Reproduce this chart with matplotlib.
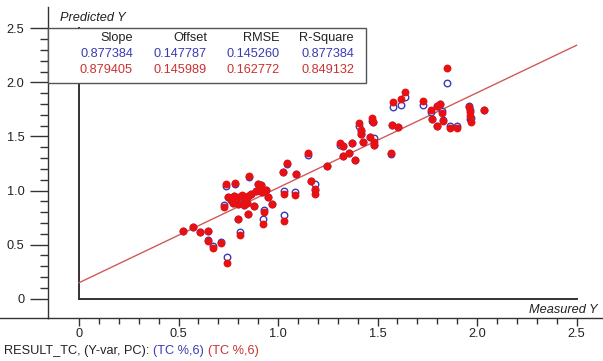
import matplotlib
matplotlib.use("Agg")
import matplotlib.pyplot as plt
from matplotlib.lines import Line2D
from matplotlib.patches import Rectangle
import numpy as np

# ---------------- data ----------------
measured = [0.523, 0.573, 0.608, 0.648, 0.648, 0.673, 0.714, 0.744, 0.729, 0.739,
            0.784, 0.799, 0.799, 0.809, 0.854, 0.849, 0.879, 0.925, 0.930, 0.950,
            0.970, 1.025, 1.045, 1.030, 1.030, 1.085, 1.090, 1.151, 1.166, 1.186,
            1.186, 1.246, 1.312, 1.327, 1.327, 1.357, 1.372, 1.387, 1.407, 1.417,
            1.417, 1.427, 1.462, 1.472, 1.477, 1.482, 1.482, 1.568, 1.573, 1.578,
            1.603, 1.618, 1.638, 1.729, 1.769, 1.774, 1.799, 1.799, 1.814, 1.824,
            1.829, 1.849, 1.864, 1.899, 1.960, 1.965, 1.965, 1.970, 2.035, 0.749,
            0.764, 0.779, 0.774, 0.799, 0.819, 0.834, 0.849, 0.864, 0.889, 0.899,
            0.915, 0.920, 0.940, 0.844, 0.829]
pred_red = [0.625, 0.662, 0.616, 0.625, 0.532, 0.468, 0.514, 0.329, 0.847, 1.060,
            1.069, 0.875, 0.736, 0.588, 1.134, 0.782, 0.856, 0.690, 0.801, 0.940,
            0.875, 1.171, 1.255, 0.968, 0.718, 0.958, 1.153, 1.347, 1.088, 1.014,
            0.968, 1.227, 1.440, 1.412, 1.319, 1.347, 1.440, 1.282, 1.625, 1.560,
            1.523, 1.449, 1.495, 1.671, 1.634, 1.449, 1.421, 1.347, 1.606, 1.819,
            1.588, 1.847, 1.912, 1.829, 1.745, 1.662, 1.597, 1.782, 1.801, 1.718,
            1.644, 2.134, 1.579, 1.579, 1.773, 1.727, 1.690, 1.634, 1.745, 0.940,
            0.912, 0.949, 0.884, 0.940, 0.958, 0.921, 0.949, 0.968, 0.995, 1.060,
            1.051, 0.986, 1.005, 0.884, 0.866]
pred_blue = [0.625, 0.662, 0.616, 0.625, 0.542, 0.486, 0.523, 0.384, 0.866, 1.042,
             1.060, 0.875, 0.736, 0.616, 1.125, 0.782, 0.856, 0.736, 0.819, 0.940,
             0.875, 1.171, 1.245, 0.995, 0.773, 0.986, 1.153, 1.329, 1.088, 1.060,
             1.005, 1.227, 1.421, 1.412, 1.319, 1.347, 1.440, 1.282, 1.597, 1.551,
             1.523, 1.449, 1.495, 1.644, 1.634, 1.486, 1.421, 1.338, 1.606, 1.773,
             1.588, 1.792, 1.866, 1.792, 1.727, 1.662, 1.597, 1.782, 1.801, 1.736,
             1.653, 1.995, 1.597, 1.597, 1.782, 1.745, 1.662, 1.671, 1.745, 0.940,
             0.912, 0.949, 0.884, 0.921, 0.949, 0.921, 0.949, 0.968, 0.995, 1.060,
             1.051, 0.986, 1.005, 0.884, 0.866]

stat_headers = ["Slope", "Offset", "RMSE", "R-Square"]
stats_blue = ["0.877384", "0.147787", "0.145260", "0.877384"]
stats_red = ["0.879405", "0.145989", "0.162772", "0.849132"]
red_slope, red_offset = 0.879405, 0.145989

x_ticks = [0, 0.5, 1.0, 1.5, 2.0, 2.5]
x_ticklabels = ["0", "0.5", "1.0", "1.5", "2.0", "2.5"]
y_ticks = [0, 0.5, 1.0, 1.5, 2.0, 2.5]
y_ticklabels = ["0", "0.5", "1.0", "1.5", "2.0", "2.5"]
footer_parts = ["RESULT_TC, (Y-var, PC):", "(TC %,6)", "(TC %,6)"]

BLUE = "#3a3ab4"
RED = "#e81010"
RED_TXT = "#c83232"
LINE_RED = "#d05a5a"
AXC = "#333333"
FS = 9.2

plt.rcParams['font.family'] = ['Liberation Sans', 'DejaVu Sans']
W, H = 603, 361
fig = plt.figure(figsize=(W / 100, H / 100), dpi=100)

def fx(px):
    return px / W

def fy(py):
    return 1 - py / H

# axes: left spine at px 48, bottom spine at py 318
ax = fig.add_axes([fx(48), fy(318), 1 - fx(48), fy(7) - fy(318)])
x0px, xs = 79.0, 199.0   # data 0 at px 79, 199 px per unit
y0px, ys = 298.5, 108.0  # data 0 at py 298.5, 108 px per unit
ax.set_xlim((48 - x0px) / xs, (W - x0px) / xs)
ax.set_ylim((y0px - 318) / ys, (y0px - 7) / ys)

for s in ["top", "right"]:
    ax.spines[s].set_visible(False)
for s in ["left", "bottom"]:
    ax.spines[s].set_color(AXC)
    ax.spines[s].set_linewidth(1.0)

ax.set_xticks(x_ticks)
ax.set_xticklabels(x_ticklabels)
ax.set_yticks(y_ticks)
ax.set_yticklabels(y_ticklabels)
ax.set_xticks(np.arange(0, 2.51, 0.1), minor=True)
ax.set_yticks(np.arange(0, 2.51, 0.1), minor=True)
ax.tick_params(which="major", width=1, color=AXC, labelsize=FS,
               labelcolor="#222222", direction="out")
ax.tick_params(which="minor", width=1, color=AXC, direction="out")
ax.tick_params(axis="y", which="major", length=13, pad=4)
ax.tick_params(axis="y", which="minor", length=6)
ax.tick_params(axis="x", which="major", length=6, pad=1)
ax.tick_params(axis="x", which="minor", length=4)

# extend bottom line to the left figure edge
fig.add_artist(Line2D([0, fx(48)], [fy(318), fy(318)], color=AXC, lw=1.0))

# inner frame
ax.plot([0, 0], [0, 2.5], color=AXC, lw=1.4, zorder=1)
ax.plot([0, 2.5], [0, 0], color=AXC, lw=1.4, zorder=1)

# regression line
lx = np.array([0, 2.5])
ax.plot(lx, red_offset + red_slope * lx, color=LINE_RED, lw=1.0, zorder=2)

# points
ax.scatter(measured, pred_blue, s=22, facecolors="white", edgecolors=BLUE,
           linewidths=1.0, zorder=3)
ax.scatter(measured, pred_red, s=32, color=RED, linewidths=0, zorder=4)

# table box
ax.add_patch(Rectangle((-0.156, 2.0), 1.598, 0.5, facecolor="white",
                       edgecolor="#555555", lw=1.0, zorder=5, clip_on=False))
col_right = [133, 207, 280, 354]
for i in range(4):
    fig.text(fx(col_right[i]), fy(38), stat_headers[i], ha="right", va="center",
             fontsize=FS, color="#222222", zorder=6)
    fig.text(fx(col_right[i]), fy(54), stats_blue[i], ha="right", va="center",
             fontsize=FS, color=BLUE, zorder=6)
    fig.text(fx(col_right[i]), fy(70), stats_red[i], ha="right", va="center",
             fontsize=FS, color=RED_TXT, zorder=6)

fig.text(fx(60), fy(18), "Predicted Y", ha="left", va="center", fontsize=FS,
         style="italic", color="#222222")
fig.text(fx(598), fy(310), "Measured Y", ha="right", va="center", fontsize=FS,
         style="italic", color="#222222")

# footer, chained so the parts never touch
renderer = fig.canvas.get_renderer()
xpos = 4
for txt, col in zip(footer_parts, ["#222222", BLUE, RED_TXT]):
    t = fig.text(fx(xpos), fy(351), txt, ha="left", va="center",
                 fontsize=FS, color=col)
    bb = t.get_window_extent(renderer=renderer)
    xpos = bb.x1 + 4

fig.savefig("out.png", dpi=100)
